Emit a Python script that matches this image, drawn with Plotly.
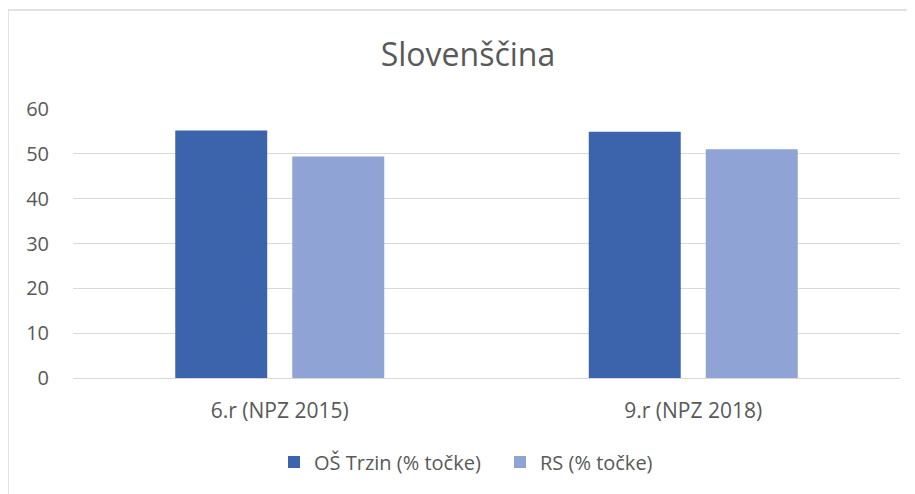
import plotly.graph_objects as go

categories = ["6.r (NPZ 2015)", "9.r (NPZ 2018)"]
series_names = ["OŠ Trzin (% točke)", "RS (% točke)"]
os_trzin = [55.2, 54.9]
rs = [49.4, 51.0]
y_ticks = [0, 10, 20, 30, 40, 50, 60]

colors = ["#3C64AC", "#8FA4D5"]
W, H = 915, 494
OFF = 8  # page body margin
L, R, T, B = 73 - OFF, 900 - OFF, 109 - OFF, 378 - OFF

fig = go.Figure()
for name, vals, c in zip(series_names, [os_trzin, rs], colors):
    fig.add_trace(go.Bar(x=categories, y=vals, name=name, marker_color=c,
                         marker_line_width=0))

font = "Open Sans"
pw, ph = R - L, B - T
fig.update_layout(
    width=W, height=H,
    margin=dict(l=L, r=W - R, t=T, b=H - B, pad=0, autoexpand=False),
    paper_bgcolor="white", plot_bgcolor="white",
    barmode="group", bargap=0.434, bargroupgap=0.214,
    title=dict(text="Slovenščina", x=(468 - OFF) / W, xanchor="center", y=1 - (55 - OFF) / H,
               yanchor="middle", font=dict(family=font, size=32, color="#595959")),
    font=dict(family=font, color="#595959"),
    xaxis=dict(showgrid=False, showline=False, ticks="", tickfont=dict(size=21, color="#595959"),
               ticklabelstandoff=18),
    yaxis=dict(range=[0, 60], tickvals=y_ticks, showgrid=True, gridcolor="#D9D9D9", gridwidth=1,
               zeroline=True, zerolinecolor="#D9D9D9", zerolinewidth=1,
               tickfont=dict(size=20, color="#595959"), ticklabelstandoff=23),
    legend=dict(orientation="h", x=(274 - OFF - L) / pw, xanchor="left",
                y=(B - (462 - OFF)) / ph, yanchor="middle",
                entrywidth=181, entrywidthmode="pixels",
                font=dict(size=20, color="#595959"), itemwidth=30, traceorder="normal"),
    showlegend=True,
)

fig.add_shape(type="rect", xref="paper", yref="paper",
              x0=(0 - L) / pw, x1=(930 - L) / pw, y0=(B - 520) / ph, y1=(B - 2) / ph,
              line=dict(color="#D9D9D9", width=1.5), fillcolor="rgba(0,0,0,0)", layer="below")

fig.write_html("out.html")
